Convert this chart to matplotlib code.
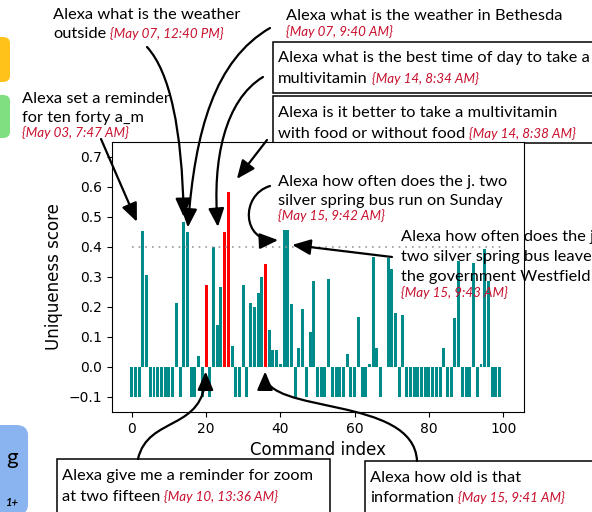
import numpy as np
import matplotlib
matplotlib.use("Agg")
import matplotlib.pyplot as plt
import matplotlib.patches as patches
import matplotlib.transforms as mtransforms
from matplotlib.path import Path

W, H = 592, 512
SANS = ["Lato", "DejaVu Sans"]
DATE_RED = "#c8102e"

# uniqueness score per command (-0.1 marks commands with no score)
scores = [
    -0.1, -0.1, -0.1, 0.453, 0.307, -0.1, -0.1, -0.1, -0.1, -0.1,
    -0.1, -0.1, 0.212, -0.1, 0.485, 0.449, -0.1, -0.1, 0.037, -0.1,
    0.273, -0.1, 0.40, 0.14, 0.268, 0.45, 0.584, 0.07, -0.1, -0.1,
    0.273, -0.1, 0.214, 0.20, 0.248, 0.30, 0.342, 0.122, 0.058, 0.058,
    0.011, 0.457, 0.457, 0.209, -0.1, 0.062, 0.195, -0.1, 0.118, 0.287,
    -0.1, -0.1, -0.1, 0.294, -0.1, -0.1, -0.1, -0.1, 0.044, -0.1,
    -0.1, 0.168, -0.1, -0.1, 0.011, 0.367, 0.062, -0.1, 0.0, 0.364,
    0.328, 0.179, -0.1, 0.174, -0.1, -0.1, -0.1, -0.1, -0.1, -0.1,
    -0.1, -0.1, -0.1, -0.1, 0.064, -0.1, -0.1, 0.165, 0.355, -0.1,
    -0.1, -0.1, 0.346, -0.1, 0.011, 0.395, 0.288, -0.1, -0.1, -0.1,
    0.0,
]
red_idx = [20, 25, 26, 36]
threshold = 0.4
xticks = [0, 20, 40, 60, 80, 100]
yticks = [-0.1, 0.0, 0.1, 0.2, 0.3, 0.4, 0.5, 0.6, 0.7]


def fxy(x, y):
    # pixel from top-left -> figure fraction
    return x / W, 1 - y / H


fig = plt.figure(figsize=(W / 100, H / 100), dpi=100)
ax = fig.add_axes([111.5 / W, 1 - 412 / H, 412 / W, 270 / H])

idx = np.arange(len(scores))
colors = ["red" if i in red_idx else "darkcyan" for i in idx]
ax.bar(idx, scores, width=0.8, color=colors)
ax.hlines(threshold, 0, 100, colors="#999999", linestyles=(0, (1, 3)), lw=1.2)

m = 0.05 * (len(scores) - 1 + 0.8)
ax.set_xlim(-0.4 - m, len(scores) - 1 + 0.4 + m)
ax.set_ylim(-0.15, 0.75)
ax.set_xticks(xticks)
ax.set_yticks(yticks)
ax.tick_params(labelsize=10)
ax.set_xlabel("Command index", fontsize=12)
ax.set_ylabel("Uniqueness score", fontsize=12)

renderer = fig.canvas.get_renderer()


def line(x, y, black, red=None, size=11.8, rsize=9.6):
    rx = x
    if black:
        t = fig.text(*fxy(x, y), black, fontsize=size, family=SANS,
                     va="baseline", ha="left", zorder=5)
        rx = t.get_window_extent(renderer).x1 + 4
    if red:
        fig.text(rx / W, 1 - y / H, red, fontsize=rsize,
                 family=SANS, style="italic", color=DATE_RED,
                 va="baseline", ha="left", zorder=5)


def box(x0, y0, x1, y1, z=4):
    fx0, fy1 = fxy(x0, y0)
    fx1, fy0 = fxy(x1, y1)
    fig.add_artist(patches.Rectangle((fx0, fy0), fx1 - fx0, fy1 - fy0,
                                     transform=fig.transFigure, fc="white",
                                     ec="black", lw=1.1, zorder=z))


def tip(ix, val):
    x, y = ax.transData.transform((ix, val))
    return x, H - y


def arrow(points):
    verts = [(x, H - y) for x, y in points]
    if len(verts) == 4:
        codes = [Path.MOVETO, Path.CURVE4, Path.CURVE4, Path.CURVE4]
    else:
        codes = [Path.MOVETO, Path.LINETO]
    a = patches.FancyArrowPatch(path=Path(verts, codes),
                                arrowstyle="-|>,head_length=0.7,head_width=0.3",
                                mutation_scale=16, lw=1.6, color="black",
                                transform=mtransforms.IdentityTransform(), zorder=6)
    fig.add_artist(a)


# side panels cut off at the left edge
for y0, y1, c in [(37, 82, "#ffc21a"), (95, 138, "#7ee07e")]:
    fig.add_artist(patches.FancyBboxPatch(fxy(-20, y1), 30 / W, (y1 - y0) / H,
                                          boxstyle="round,pad=0,rounding_size=0.012",
                                          transform=fig.transFigure, fc=c, ec="none"))
fig.add_artist(patches.FancyBboxPatch(fxy(-20, 515), 48 / W, 90 / H,
                                      boxstyle="round,pad=0,rounding_size=0.02",
                                      transform=fig.transFigure, fc="#8ab4f0", ec="none"))
fig.text(*fxy(6, 458), "g", fontsize=16, family=SANS, va="center")
fig.text(*fxy(6, 503), "1+", fontsize=8, family=SANS, style="italic",
         weight="bold", va="center")

# top annotations
line(53, 19, "Alexa what is the weather")
line(53, 38, "outside", "{May 07, 12:40 PM}")
line(286, 20, "Alexa what is the weather in Bethesda")
line(286, 36, "", "{May 07, 9:40 AM}")

box(273, 42, 605, 93)
line(278, 62, "Alexa what is the best time of day to take a")
line(278, 83, "multivitamin", "{May 14, 8:34 AM}")
box(273, 96, 605, 143, z=-1)
line(278, 117, "Alexa is it better to take a multivitamin")
line(278, 138, "with food or without food", "{May 14, 8:38 AM}")

line(22, 103, "Alexa set a reminder")
line(22, 122, "for ten forty a_m")
line(22, 137, "", "{May 03, 7:47 AM}")

line(278, 186, "Alexa how often does the j. two")
line(278, 205, "silver spring bus run on Sunday")
line(278, 220, "", "{May 15, 9:42 AM}")

line(401, 241, "Alexa how often does the j.")
line(401, 261, "two silver spring bus leave")
line(401, 281, "the government Westfield")
line(401, 297, "", "{May 15, 9:43 AM}")

# bottom annotations
box(57, 459, 330, 515)
line(62, 480, "Alexa give me a reminder for zoom")
line(62, 501, "at two fifteen", "{May 10, 13:36 AM}")
box(365, 461, 605, 515)
line(370, 482, "Alexa how old is that")
line(370, 502, "information", "{May 15, 9:41 AM}")

# arrows
arrow([(101, 139), tip(1.4, 0.484)])
arrow([(147, 47), (170, 72), (182, 130), tip(14, 0.50)])
arrow([(270, 28), (215, 60), (195, 130), tip(15.1, 0.465)])
arrow([(263, 77), (225, 100), (212, 160), tip(23.2, 0.467)])
arrow([(267, 140), tip(28.3, 0.627)])
arrow([(270, 186), (240, 195), (242, 242), tip(39.4, 0.423)])
arrow([(392, 257), tip(43.2, 0.407)])
arrow([(138, 459), (148, 415), (205, 432), tip(19.9, -0.015)])
arrow([(417, 461), (414, 395), (265, 415), tip(35.9, -0.015)])

fig.savefig("out.png", dpi=100)
